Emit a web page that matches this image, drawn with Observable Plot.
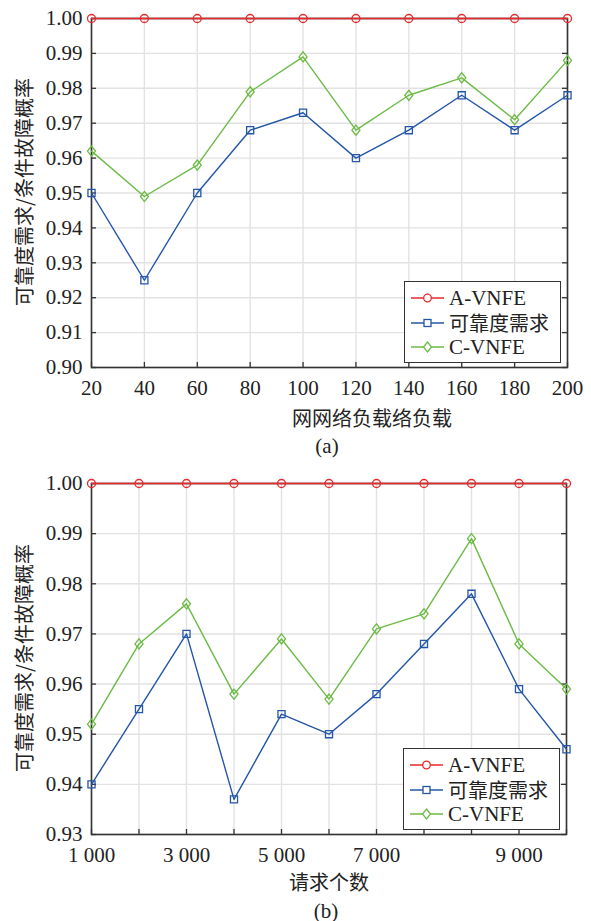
<!DOCTYPE html>
<html><head><meta charset="utf-8">
<script src="https://cdn.jsdelivr.net/npm/d3@7"></script>
<script src="https://cdn.jsdelivr.net/npm/@observablehq/plot@0.6"></script>
<style>
body{margin:0;background:#fff;}
#root{position:relative;width:591px;height:921px;overflow:hidden;font-family:'Liberation Serif',serif;color:#222;}
.abs{position:absolute;white-space:nowrap;line-height:1;}
.cx{transform:translate(-50%,-50%);font-size:21px;}
.ylab{transform:translate(-50%,-50%) rotate(-90deg);font-size:21px;}
.legend{position:absolute;border:1.5px solid #333;background:#fff;box-sizing:border-box;font-size:21px;padding:4px 0 0 6px;}
.legend .row{display:flex;align-items:center;height:24.5px;line-height:1;}
.legend span{line-height:1;}
.legend svg{margin-right:5px;}
.cjk{font-family:'Noto Sans CJK SC',sans-serif;font-size:20px;}
.plotwrap{position:absolute;left:0;}
.plotwrap svg text{font-family:'Liberation Serif',serif;}
</style>
</head><body>
<div id="root"></div>
<script>
// ---------- Data: chart (a) ----------
const loads = [20, 40, 60, 80, 100, 120, 140, 160, 180, 200];
const aVnfeA = [1.000, 1.000, 1.000, 1.000, 1.000, 1.000, 1.000, 1.000, 1.000, 1.000];
const reliabilityA = [0.950, 0.925, 0.950, 0.968, 0.973, 0.960, 0.968, 0.978, 0.968, 0.978];
const cVnfeA = [0.962, 0.949, 0.958, 0.979, 0.989, 0.968, 0.978, 0.983, 0.971, 0.988];
const yTicksA = [0.90, 0.91, 0.92, 0.93, 0.94, 0.95, 0.96, 0.97, 0.98, 0.99, 1.00];

// ---------- Data: chart (b) ----------
const requestIdx = [0, 1, 2, 3, 4, 5, 6, 7, 8, 9, 10];
const requestTickLabels = ["1 000", "", "3 000", "", "5 000", "", "7 000", "", "", "9 000", ""];
const aVnfeB = [1.000, 1.000, 1.000, 1.000, 1.000, 1.000, 1.000, 1.000, 1.000, 1.000, 1.000];
const reliabilityB = [0.940, 0.955, 0.970, 0.937, 0.954, 0.950, 0.958, 0.968, 0.978, 0.959, 0.947];
const cVnfeB = [0.952, 0.968, 0.976, 0.958, 0.969, 0.957, 0.971, 0.974, 0.989, 0.968, 0.959];
const yTicksB = [0.93, 0.94, 0.95, 0.96, 0.97, 0.98, 0.99, 1.00];

const seriesNames = ["A-VNFE", "可靠度需求", "C-VNFE"];
const seriesColors = ["#e8282b", "#2356a8", "#6cbb45"];
const seriesSymbols = ["circle", "square", "diamond"];

const diamondSym = {
  draw(ctx, size) {
    const r = Math.sqrt(size) * 0.62;
    const w = r * 0.8;
    ctx.moveTo(0, -r); ctx.lineTo(w, 0); ctx.lineTo(0, r); ctx.lineTo(-w, 0); ctx.closePath();
  }
};

function makeChart({xs, ys, yTicks, xDomain, yDomain, xFmt, width, height, mt, mb, ml, mr}) {
  const rows = [];
  ys.forEach((arr, s) => arr.forEach((v, i) => rows.push({x: xs[i], y: v, s})));
  const innerH = height - mt - mb;
  const innerW = width - ml - mr;
  const axisColor = "#333";
  const marks = [
    Plot.gridX(xs, {stroke: "#e2e2e2", strokeOpacity: 1, strokeWidth: 1.4}),
    Plot.gridY(yTicks, {stroke: "#e2e2e2", strokeOpacity: 1, strokeWidth: 1.4}),
    Plot.axisX(xs, {tickSize: 0, tickPadding: 13, tickFormat: xFmt, fill: "#222", label: null, fontFamily: "Liberation Serif"}),
    Plot.axisY(yTicks, {tickSize: 0, tickPadding: 9, tickFormat: d => d.toFixed(2), fill: "#222", label: null, fontFamily: "Liberation Serif"}),
    Plot.frame({stroke: axisColor, strokeWidth: 1.6}),
    Plot.tickX(xs, {x: d => d, stroke: axisColor, strokeWidth: 1.3, insetTop: innerH - 5}),
    Plot.tickY(yTicks, {y: d => d, stroke: axisColor, strokeWidth: 1.3, insetRight: innerW - 5}),
    Plot.tickY(yTicks, {y: d => d, stroke: axisColor, strokeWidth: 1.3, insetLeft: innerW - 5})
  ];
  [0, 1, 2].forEach(s => {
    const data = rows.filter(r => r.s === s);
    marks.push(Plot.line(data, {x: "x", y: "y", stroke: seriesColors[s], strokeWidth: 1.4}));
  });
  [0, 1, 2].forEach(s => {
    const data = rows.filter(r => r.s === s);
    const sym = seriesSymbols[s] === "diamond" ? diamondSym : seriesSymbols[s];
    const r = s === 0 ? 4 : (s === 1 ? 4 : 4.6);
    marks.push(Plot.dot(data, {x: "x", y: "y", stroke: seriesColors[s], fill: "none", strokeWidth: 1.3, r, symbol: sym}));
  });
  return Plot.plot({
    width, height, marginTop: mt, marginBottom: mb, marginLeft: ml, marginRight: mr,
    x: {domain: xDomain},
    y: {domain: yDomain},
    style: {fontFamily: "Liberation Serif, serif", fontSize: "21px", background: "transparent", overflow: "visible"},
    marks
  });
}

const root = document.getElementById("root");

function addLegend(left, top) {
  const lg = document.createElement("div");
  lg.className = "legend";
  lg.style.left = left + "px"; lg.style.top = top + "px";
  lg.style.width = "157px"; lg.style.height = "82px";
  seriesNames.forEach((name, s) => {
    const row = document.createElement("div");
    row.className = "row";
    const ns = "http://www.w3.org/2000/svg";
    const svg = document.createElementNS(ns, "svg");
    svg.setAttribute("width", 33); svg.setAttribute("height", 14);
    const ln = document.createElementNS(ns, "line");
    ln.setAttribute("x1", 0); ln.setAttribute("x2", 33); ln.setAttribute("y1", 7); ln.setAttribute("y2", 7);
    ln.setAttribute("stroke", seriesColors[s]); ln.setAttribute("stroke-width", 1.4);
    svg.appendChild(ln);
    let m;
    if (s === 0) { m = document.createElementNS(ns, "circle"); m.setAttribute("cx", 16.5); m.setAttribute("cy", 7); m.setAttribute("r", 3.8); }
    else if (s === 1) { m = document.createElementNS(ns, "rect"); m.setAttribute("x", 13); m.setAttribute("y", 3.5); m.setAttribute("width", 7); m.setAttribute("height", 7); }
    else { m = document.createElementNS(ns, "path"); m.setAttribute("d", "M16.5,2 L20.5,7 L16.5,12 L12.5,7 Z"); }
    m.setAttribute("fill", "white"); m.setAttribute("stroke", seriesColors[s]); m.setAttribute("stroke-width", 1.3);
    svg.appendChild(m);
    row.appendChild(svg);
    const t = document.createElement("span");
    t.textContent = name;
    if (s === 1) t.className = "cjk";
    row.appendChild(t);
    lg.appendChild(row);
  });
  root.appendChild(lg);
}

function addText(txt, x, y, cls) {
  const d = document.createElement("div");
  d.className = "abs " + cls;
  d.style.left = x + "px"; d.style.top = y + "px";
  d.textContent = txt;
  root.appendChild(d);
}

// Chart (a)
const wrapA = document.createElement("div");
wrapA.className = "plotwrap"; wrapA.style.top = "0px";
wrapA.appendChild(makeChart({
  xs: loads, ys: [aVnfeA, reliabilityA, cVnfeA], yTicks: yTicksA,
  xDomain: [20, 200], yDomain: [0.90, 1.00], xFmt: d => String(d),
  width: 591, height: 405, mt: 18, mb: 38, ml: 91, mr: 24
}));
root.appendChild(wrapA);
addLegend(404, 281);
addText("可靠度需求/条件故障概率", 24, 192, "ylab cjk");
addText("网网络负载络负载", 372, 418, "cx cjk");
addText("(a)", 327, 446, "cx");

// Chart (b)
const wrapB = document.createElement("div");
wrapB.className = "plotwrap"; wrapB.style.top = "460px";
wrapB.appendChild(makeChart({
  xs: requestIdx, ys: [aVnfeB, reliabilityB, cVnfeB], yTicks: yTicksB,
  xDomain: [0, 10], yDomain: [0.93, 1.00], xFmt: (d, i) => requestTickLabels[i],
  width: 591, height: 420, mt: 23, mb: 46, ml: 91, mr: 25
}));
root.appendChild(wrapB);
addLegend(403, 748);
addText("可靠度需求/条件故障概率", 24, 658, "ylab cjk");
addText("请求个数", 329, 882, "cx cjk");
addText("(b)", 326, 911, "cx");
</script>
</body></html>
